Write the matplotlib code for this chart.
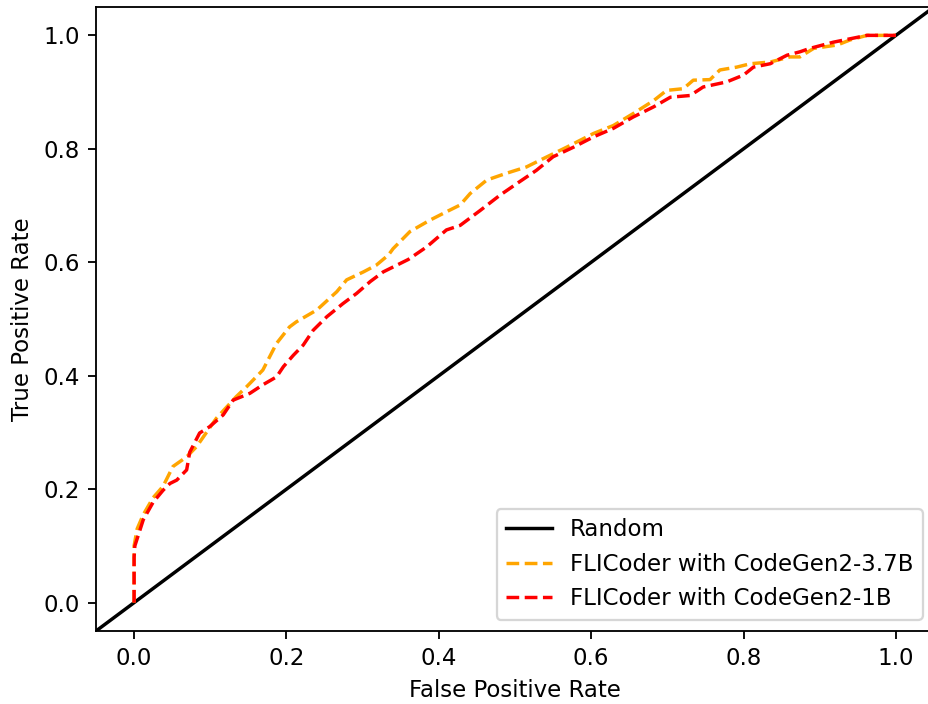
import matplotlib
matplotlib.use('Agg')
import matplotlib.pyplot as plt

# ROC points (FPR, TPR)
fpr_37b = [0.0, 0.0, 0.004, 0.012, 0.025, 0.038, 0.051, 0.069, 0.082, 0.095, 0.108,
           0.134, 0.148, 0.169, 0.187, 0.204, 0.213, 0.240, 0.266, 0.279, 0.301,
           0.318, 0.334, 0.340, 0.362, 0.388, 0.410, 0.428, 0.441, 0.463, 0.489,
           0.515, 0.533, 0.568, 0.603, 0.629, 0.655, 0.682, 0.699, 0.721, 0.734,
           0.756, 0.769, 0.791, 0.809, 0.835, 0.861, 0.874, 0.892, 0.923, 0.940,
           0.962, 0.992, 1.0]
tpr_37b = [0.0, 0.10, 0.13, 0.155, 0.185, 0.205, 0.240, 0.257, 0.275, 0.30, 0.325,
           0.363, 0.381, 0.410, 0.457, 0.486, 0.495, 0.516, 0.548, 0.569, 0.583,
           0.595, 0.613, 0.624, 0.654, 0.674, 0.689, 0.701, 0.721, 0.745, 0.757,
           0.768, 0.780, 0.803, 0.827, 0.841, 0.862, 0.885, 0.903, 0.906, 0.921,
           0.922, 0.939, 0.944, 0.950, 0.953, 0.962, 0.962, 0.977, 0.983, 0.992,
           1.0, 1.0, 1.0]

fpr_1b = [0.0, 0.0, 0.001, 0.012, 0.025, 0.038, 0.047, 0.056, 0.069, 0.073, 0.086,
          0.099, 0.117, 0.130, 0.152, 0.169, 0.187, 0.196, 0.209, 0.222, 0.235,
          0.253, 0.274, 0.292, 0.310, 0.327, 0.345, 0.360, 0.384, 0.410, 0.428,
          0.454, 0.480, 0.506, 0.528, 0.550, 0.577, 0.603, 0.629, 0.655, 0.682,
          0.704, 0.730, 0.747, 0.778, 0.800, 0.813, 0.835, 0.857, 0.874, 0.887,
          0.918, 0.940, 0.962, 0.992, 1.0]
tpr_1b = [0.0, 0.08, 0.10, 0.146, 0.177, 0.198, 0.210, 0.216, 0.234, 0.265, 0.299,
          0.310, 0.331, 0.357, 0.369, 0.384, 0.398, 0.416, 0.436, 0.454, 0.480,
          0.504, 0.527, 0.545, 0.566, 0.583, 0.595, 0.605, 0.627, 0.657, 0.665,
          0.691, 0.718, 0.742, 0.762, 0.786, 0.803, 0.821, 0.836, 0.856, 0.874,
          0.891, 0.894, 0.909, 0.918, 0.930, 0.944, 0.950, 0.965, 0.971, 0.977,
          0.988, 0.994, 1.0, 1.0, 1.0]

fig = plt.figure(figsize=(929 / 165, 704 / 165), dpi=165)
ax = fig.add_axes([96 / 929, 73 / 704, 838 / 929, 624 / 704])

ax.axline((0, 0), (1, 1), color='black', label='Random')
ax.plot(fpr_37b, tpr_37b, linestyle='--', color='orange', label='FLICoder with CodeGen2-3.7B')
ax.plot(fpr_1b, tpr_1b, linestyle='--', color='red', label='FLICoder with CodeGen2-1B')

ax.set_xlim(-0.05, 1.05)
ax.set_ylim(-0.05, 1.05)
ax.set_xticks([0.0, 0.2, 0.4, 0.6, 0.8, 1.0])
ax.set_yticks([0.0, 0.2, 0.4, 0.6, 0.8, 1.0])
ax.set_xlabel('False Positive Rate')
ax.set_ylabel('True Positive Rate')
ax.legend(loc='lower right')

plt.savefig('out.png', dpi=165)
